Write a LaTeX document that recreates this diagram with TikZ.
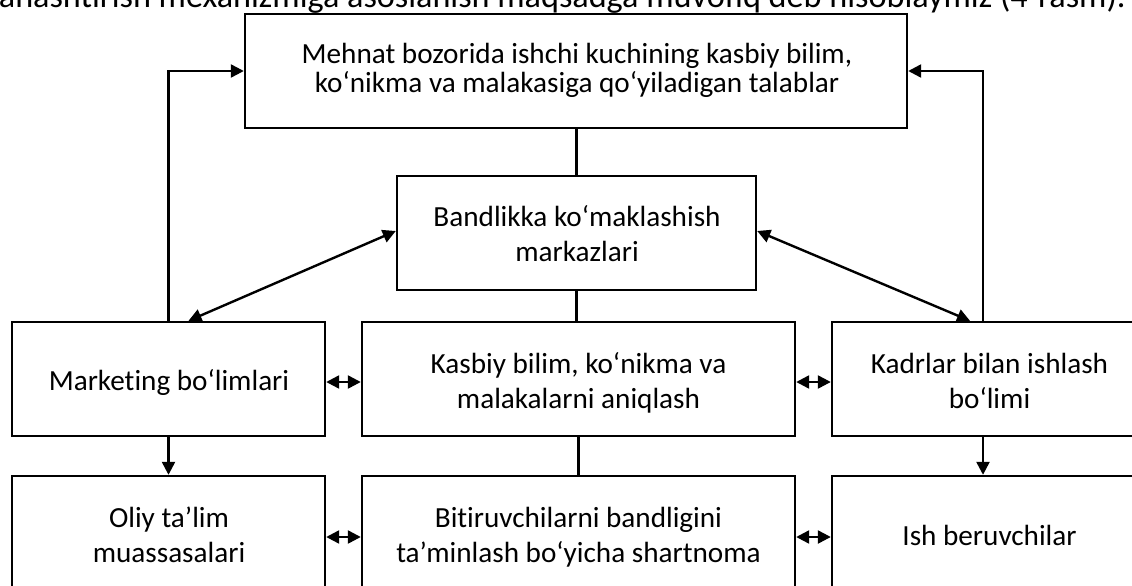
\documentclass[tikz,border=0pt]{standalone}
\usepackage{fontspec}
\setmainfont{Carlito}[Ligatures=NoCommon]
\usetikzlibrary{arrows.meta}
\newcommand\tln[2]{\begin{tabular}[t]{@{}c@{}}#1\\#2\end{tabular}}
\tikzset{
  box/.style={draw, line width=2.4pt, inner sep=0pt},
  txt/.style={anchor=base, inner sep=0pt, font=\fontsize{29.2}{35.3}\selectfont},
  link/.style={line width=2.4pt},
  arr/.style={line width=2.4pt, -{Triangle[length=13pt,width=13pt]}},
  darr/.style={line width=2.4pt, {Triangle[length=13pt,width=13pt]}-{Triangle[length=13pt,width=13pt]}},
}
\begin{document}
\begin{tikzpicture}[x=1pt,y=-1pt]
\useasboundingbox (0,0) rectangle (1132,586);
\node[anchor=base east, inner sep=0pt, font=\fontsize{34.2}{40}\selectfont] (head) at (1126,8)
  {anashtirish mexanizmiga asoslanish maqsadga muvofiq deb hisoblaymiz (4-rasm).};
% boxes
\node[box, minimum width=662pt, minimum height=114pt] (top) at (576,71) {};
\node[box, minimum width=359pt, minimum height=114pt] (band) at (576.5,233) {};
\node[box, minimum width=313pt, minimum height=114pt] (mark) at (168.5,379) {};
\node[box, minimum width=433pt, minimum height=114pt] (kas) at (578.5,379) {};
\node[box, minimum width=314pt, minimum height=114pt] (kad) at (989,379) {};
\node[box, minimum width=313pt, minimum height=114pt] (oliy) at (168.5,533) {};
\node[box, minimum width=433pt, minimum height=114pt] (bit) at (578.5,533) {};
\node[box, minimum width=314pt, minimum height=114pt] (ish) at (989,533) {};
% texts
\node[txt, font=\fontsize{29.2}{28.4}\selectfont] (toptxt) at (577,63.3)
  {\tln{Mehnat bozorida ishchi kuchining kasbiy bilim,}{ko‘nikma va malakasiga qo‘yiladigan talablar}};
\node[txt, font=\fontsize{29.2}{35.8}\selectfont] (bandtxt) at (577,226)
  {\tln{Bandlikka ko‘maklashish}{markazlari}};
\node[txt] (marktxt) at (169,390) {Marketing bo‘limlari};
\node[txt] (kastxt) at (578.5,373) {\tln{Kasbiy bilim, ko‘nikma va}{malakalarni aniqlash}};
\node[txt] (kadtxt) at (989.5,373) {\tln{Kadrlar bilan ishlash}{bo‘limi}};
\node[txt] (oliytxt) at (169,527) {\tln{Oliy ta’lim}{muassasalari}};
\node[txt] (bittxt) at (578.5,527) {\tln{Bitiruvchilarni bandligini}{ta’minlash bo‘yicha shartnoma}};
\node[txt] (ishtxt) at (989.5,545) {Ish beruvchilar};
% vertical links
\draw[link] (top.south -| band.north) -- (band.north);
\draw[link] (band.south) -- (band.south |- kas.north);
\draw[link] (kas.south) -- (bit.north);
% feedback arrows to top
\draw[arr] (mark.north) |- (top.west);
\draw[arr] ([xshift=-6pt]kad.north) |- (top.east);
% diagonals
\draw[darr] ([yshift=2pt]band.west) -- ([xshift=20pt]mark.north);
\draw[darr] ([yshift=2pt]band.east) -- ([xshift=-19pt]kad.north);
% down arrows
\draw[arr] (mark.south) -- (oliy.north);
\draw[arr] ([xshift=-6pt]kad.south) -- ([xshift=-6pt]ish.north);
% double arrows
\draw[darr] ([yshift=-3pt]mark.east) -- ([yshift=-3pt]kas.west);
\draw[darr] ([yshift=-3pt]kas.east) -- ([yshift=-3pt]kad.west);
\draw[darr] ([yshift=-4pt]oliy.east) -- ([yshift=-4pt]bit.west);
\draw[darr] ([yshift=-4pt]bit.east) -- ([yshift=-4pt]ish.west);
\end{tikzpicture}
\end{document}
